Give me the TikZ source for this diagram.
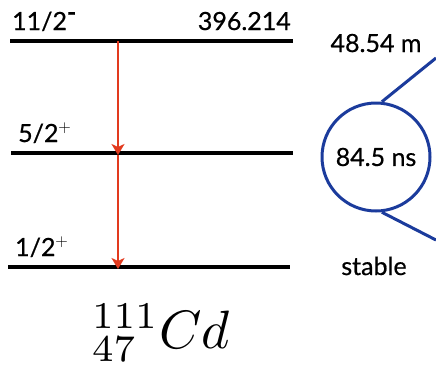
\documentclass[tikz,border=0pt]{standalone}
\usepackage{graphicx}
\usepackage{fontspec}
\newfontfamily\labelfont[FakeBold=0.6]{Lato}
\usetikzlibrary{arrows.meta}
\definecolor{gammared}{HTML}{E23A1E}
\definecolor{lifeblue}{HTML}{1B3B9C}
\tikzset{
  level/.style={line width=4pt},
  gamma/.style={gammared,line width=2pt,-{Stealth[length=11pt,width=13pt,inset=3pt]}},
  lbl/.style={font=\labelfont\fontsize{25}{29}\selectfont,inner sep=0pt}
}
\begin{document}
\begin{tikzpicture}[x=1pt,y=-1pt]
 \useasboundingbox (0,0) rectangle (436,367);
 % levels
 \draw[level] (10,41) -- (293,41);
 \draw[level] (11,153) -- (293,153);
 \draw[level] (8,267) -- (290,267);
 \node[lbl,anchor=base west] (j0) at (12,30) {11/2$^{\textbf{-}}$};
 \node[lbl,anchor=base east] (e0) at (291,30) {396.214};
 \node[lbl,anchor=base west] (j1) at (18,142) {5/2$^{+}$};
 \node[lbl,anchor=base west] (j2) at (15,256) {1/2$^{+}$};
 % gamma cascade
 \coordinate (g0) at (118,41);
 \coordinate (g1) at (118,155);
 \coordinate (g2) at (118,269);
 \draw[gamma] (g0) -- (g1);
 \draw[gamma] (g1) -- (g2);
 % half-lives
 \node[lbl,anchor=base] (t0) at (376,52) {48.54 m};
 \node[lbl,circle,draw=lifeblue,line width=3pt,minimum size=108pt] (tau) at (376,157) {84.5 ns};
 \node[lbl,anchor=base] (t2) at (374,275) {stable};
 \coordinate (z0) at (436,58);
 \coordinate (z1) at (436,240);
 \draw[lifeblue,line width=3pt] (tau.84) -- (z0);
 \draw[lifeblue,line width=3pt] (tau.-84) -- (z1);
 \node[inner sep=0pt,anchor=base west] (iso) at (92,348) {\scalebox{5.4}{$^{111}_{47}Cd$}};
\end{tikzpicture}
\end{document}
